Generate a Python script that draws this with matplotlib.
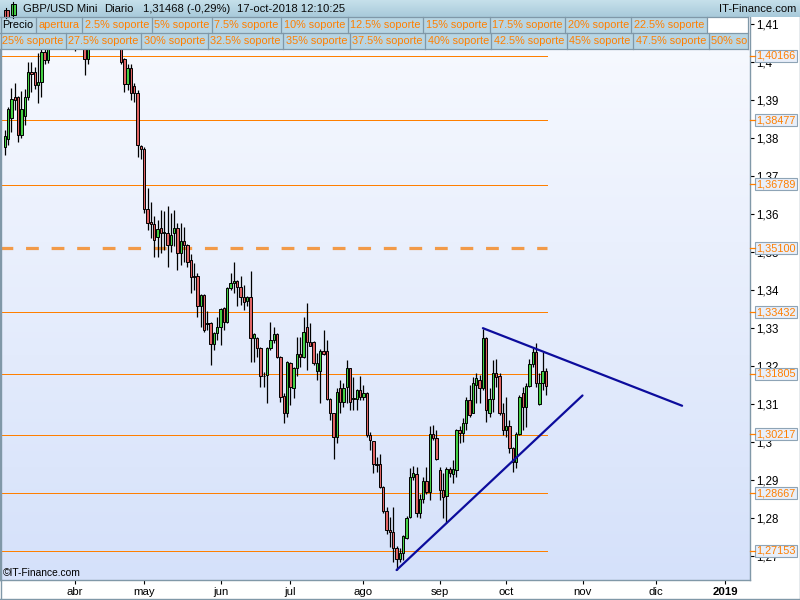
import numpy as np
import pandas as pd
import matplotlib
matplotlib.use("Agg")
import matplotlib.pyplot as plt
from matplotlib.patches import Rectangle
from matplotlib.colors import LinearSegmentedColormap
from matplotlib.transforms import Bbox, TransformedBbox

plt.rcParams["font.family"] = ["Liberation Sans", "DejaVu Sans"]

# GBP/USD diario, 2-mar-2018 .. 17-oct-2018
dates = pd.bdate_range("2018-03-02", "2018-10-17")

opens = [1.3777, 1.3797, 1.3852, 1.3907, 1.3907, 1.3807, 1.3858, 1.3907, 1.3973, 1.3973,
         1.3939, 1.3947, 1.4027, 1.4005, 1.4140, 1.4130, 1.4140, 1.4235, 1.4160, 1.4075,
         1.4060, 1.4047, 1.4090, 1.4060, 1.4080, 1.4007, 1.4090, 1.4120, 1.4165, 1.4185,
         1.4240, 1.4240, 1.4335, 1.4290, 1.4190, 1.4080, 1.4007, 1.3942, 1.3983, 1.3937,
         1.3918, 1.3780, 1.3771, 1.3613, 1.3578, 1.3573, 1.3539, 1.3563, 1.3550, 1.3550,
         1.3519, 1.3550, 1.3563, 1.3497, 1.3528, 1.3519, 1.3480, 1.3436, 1.3436, 1.3357,
         1.3387, 1.3313, 1.3313, 1.3258, 1.3286, 1.3302, 1.3352, 1.3315, 1.3405, 1.3420,
         1.3423, 1.3408, 1.3383, 1.3372, 1.3381, 1.3273, 1.3273, 1.3247, 1.3175, 1.3177,
         1.3247, 1.3269, 1.3285, 1.3225, 1.3122, 1.3078, 1.3208, 1.3142, 1.3195, 1.3231,
         1.3223, 1.3304, 1.3263, 1.3263, 1.3188, 1.3188, 1.3240, 1.3240, 1.3113, 1.3076,
         1.3014, 1.3142, 1.3107, 1.3144, 1.3194, 1.3113, 1.3113, 1.3137, 1.3118, 1.3129,
         1.3019, 1.3003, 1.2944, 1.2944, 1.2883, 1.2820, 1.2769, 1.2763, 1.2723, 1.2694,
         1.2710, 1.2747, 1.2804, 1.2908, 1.2916, 1.2813, 1.2852, 1.2899, 1.2870, 1.3023,
         1.3010, 1.2927, 1.2874, 1.2858, 1.2929, 1.2917, 1.2927, 1.3032, 1.3024, 1.3050,
         1.3111, 1.3078, 1.3151, 1.3165, 1.3142, 1.3273, 1.3078, 1.3115, 1.3181, 1.3174,
         1.3078, 1.3032, 1.3044, 1.2984, 1.2949, 1.3023, 1.3129, 1.3092, 1.3148, 1.3207,
         1.3237, 1.3100, 1.3156, 1.3187]
highs = [1.3821, 1.3882, 1.3931, 1.3944, 1.3911, 1.3924, 1.3929, 1.3999, 1.3999, 1.3988,
         1.4023, 1.4040, 1.4060, 1.4145, 1.4150, 1.4200, 1.4245, 1.4240, 1.4190, 1.4110,
         1.4075, 1.4100, 1.4100, 1.4095, 1.4095, 1.4100, 1.4140, 1.4180, 1.4215, 1.4245,
         1.4290, 1.4345, 1.4377, 1.4300, 1.4215, 1.4095, 1.4010, 1.3995, 1.3995, 1.3944,
         1.3925, 1.3782, 1.3776, 1.3668, 1.3633, 1.3595, 1.3585, 1.3611, 1.3607, 1.3622,
         1.3602, 1.3611, 1.3576, 1.3576, 1.3567, 1.3522, 1.3495, 1.3471, 1.3444, 1.3390,
         1.3390, 1.3344, 1.3316, 1.3290, 1.3330, 1.3352, 1.3356, 1.3409, 1.3444, 1.3475,
         1.3427, 1.3436, 1.3414, 1.3384, 1.3451, 1.3288, 1.3276, 1.3250, 1.3185, 1.3250,
         1.3317, 1.3304, 1.3287, 1.3228, 1.3129, 1.3213, 1.3212, 1.3198, 1.3278, 1.3278,
         1.3330, 1.3366, 1.3313, 1.3266, 1.3234, 1.3244, 1.3295, 1.3269, 1.3116, 1.3078,
         1.3142, 1.3164, 1.3155, 1.3216, 1.3196, 1.3172, 1.3140, 1.3174, 1.3150, 1.3131,
         1.3028, 1.3003, 1.2962, 1.2970, 1.2885, 1.2830, 1.2804, 1.2830, 1.2727, 1.2721,
         1.2756, 1.2806, 1.2931, 1.2937, 1.2936, 1.2865, 1.2909, 1.2934, 1.3043, 1.3045,
         1.3032, 1.2935, 1.2918, 1.2936, 1.2936, 1.2953, 1.3036, 1.3043, 1.3063, 1.3120,
         1.3150, 1.3172, 1.3181, 1.3177, 1.3299, 1.3276, 1.3142, 1.3216, 1.3218, 1.3181,
         1.3102, 1.3118, 1.3058, 1.2988, 1.3028, 1.3124, 1.3146, 1.3155, 1.3218, 1.3249,
         1.3260, 1.3181, 1.3238, 1.3194]
lows = [1.3755, 1.3782, 1.3817, 1.3874, 1.3789, 1.3800, 1.3834, 1.3900, 1.3922, 1.3930,
        1.3891, 1.3909, 1.3995, 1.3998, 1.4060, 1.4090, 1.4120, 1.4150, 1.4060, 1.4045,
        1.4037, 1.4030, 1.4040, 1.4045, 1.3966, 1.3995, 1.4060, 1.4100, 1.4140, 1.4150,
        1.4220, 1.4235, 1.4280, 1.4170, 1.4070, 1.3995, 1.3922, 1.3925, 1.3900, 1.3896,
        1.3751, 1.3745, 1.3602, 1.3558, 1.3537, 1.3488, 1.3487, 1.3497, 1.3506, 1.3462,
        1.3501, 1.3515, 1.3453, 1.3466, 1.3475, 1.3460, 1.3392, 1.3401, 1.3330, 1.3304,
        1.3290, 1.3295, 1.3203, 1.3243, 1.3269, 1.3256, 1.3295, 1.3313, 1.3401, 1.3392,
        1.3357, 1.3361, 1.3348, 1.3357, 1.3212, 1.3212, 1.3225, 1.3146, 1.3146, 1.3102,
        1.3243, 1.3260, 1.3221, 1.3107, 1.3050, 1.3067, 1.3098, 1.3116, 1.3173, 1.3199,
        1.3222, 1.3190, 1.3252, 1.3203, 1.3164, 1.3102, 1.3230, 1.3111, 1.3059, 1.2957,
        1.2997, 1.3076, 1.3093, 1.3102, 1.3085, 1.3085, 1.3085, 1.3111, 1.3111, 1.3014,
        1.2979, 1.2918, 1.2921, 1.2880, 1.2813, 1.2760, 1.2725, 1.2686, 1.2664, 1.2686,
        1.2690, 1.2745, 1.2800, 1.2900, 1.2804, 1.2800, 1.2839, 1.2865, 1.2848, 1.3006,
        1.2953, 1.2848, 1.2800, 1.2787, 1.2909, 1.2892, 1.2909, 1.2997, 1.3001, 1.3032,
        1.3067, 1.3076, 1.3102, 1.3102, 1.3137, 1.3054, 1.3067, 1.3080, 1.3146, 1.3071,
        1.3019, 1.3014, 1.2971, 1.2922, 1.2931, 1.3019, 1.3032, 1.3041, 1.3146, 1.3199,
        1.3146, 1.3098, 1.3137, 1.3124]
closes = [1.3805, 1.3877, 1.3902, 1.3900, 1.3807, 1.3876, 1.3907, 1.3973, 1.3968, 1.3939,
          1.3947, 1.4027, 1.4005, 1.4140, 1.4130, 1.4140, 1.4235, 1.4160, 1.4075, 1.4060,
          1.4047, 1.4090, 1.4060, 1.4080, 1.4007, 1.4090, 1.4120, 1.4165, 1.4185, 1.4240,
          1.4240, 1.4335, 1.4290, 1.4190, 1.4080, 1.4001, 1.3942, 1.3983, 1.3918, 1.3918,
          1.3782, 1.3771, 1.3613, 1.3576, 1.3574, 1.3532, 1.3560, 1.3550, 1.3554, 1.3519,
          1.3545, 1.3563, 1.3497, 1.3528, 1.3519, 1.3475, 1.3434, 1.3434, 1.3357, 1.3387,
          1.3295, 1.3310, 1.3258, 1.3286, 1.3304, 1.3350, 1.3317, 1.3405, 1.3420, 1.3423,
          1.3409, 1.3381, 1.3370, 1.3381, 1.3273, 1.3285, 1.3247, 1.3173, 1.3173, 1.3247,
          1.3269, 1.3285, 1.3225, 1.3120, 1.3078, 1.3210, 1.3145, 1.3195, 1.3231, 1.3225,
          1.3289, 1.3263, 1.3254, 1.3208, 1.3208, 1.3240, 1.3231, 1.3113, 1.3076, 1.3014,
          1.3131, 1.3107, 1.3142, 1.3194, 1.3107, 1.3117, 1.3137, 1.3118, 1.3129, 1.3019,
          1.3006, 1.2944, 1.2940, 1.2883, 1.2820, 1.2769, 1.2763, 1.2723, 1.2694, 1.2710,
          1.2753, 1.2802, 1.2908, 1.2918, 1.2813, 1.2852, 1.2899, 1.2870, 1.3023, 1.3012,
          1.2957, 1.2874, 1.2856, 1.2929, 1.2918, 1.2929, 1.3032, 1.3024, 1.3050, 1.3111,
          1.3071, 1.3155, 1.3168, 1.3142, 1.3273, 1.3085, 1.3115, 1.3181, 1.3172, 1.3078,
          1.3032, 1.3044, 1.2984, 1.2949, 1.3023, 1.3118, 1.3092, 1.3148, 1.3207, 1.3237,
          1.3155, 1.3156, 1.3187, 1.3147]

# niveles de soporte (derecha)
levels = [1.40166, 1.38477, 1.36789, 1.35100, 1.33432, 1.31805, 1.30217, 1.28667, 1.27153]
level_labels = ["1,40166", "1,38477", "1,36789", "1,35100", "1,33432",
                "1,31805", "1,30217", "1,28667", "1,27153"]
dashed_level = 1.35100

# triangulo
upper_dates = ["2018-09-20", "2018-12-13"]
upper_prices = [1.3300, 1.3096]
lower_dates = ["2018-08-15", "2018-11-01"]
lower_prices = [1.2664, 1.3123]

month_labels = ["abr", "may", "jun", "jul", "ago", "sep", "oct", "nov", "dic", "2019"]

row2_labels = ["Precio", "apertura", "2.5% soporte", "5% soporte", "7.5% soporte",
               "10% soporte", "12.5% soporte", "15% soporte", "17.5% soporte",
               "20% soporte", "22.5% soporte"]
row3_labels = ["25% soporte", "27.5% soporte", "30% soporte", "32.5% soporte",
               "35% soporte", "37.5% soporte", "40% soporte", "42.5% soporte",
               "45% soporte", "47.5% soporte", "50% soporte"]

title_parts = ["GBP/USD Mini", "Diario", "1,31468 (-0,29%)", "17-oct-2018 12:10:25"]

# ---------------------------------------------------------------
ORANGE = "#FF7F00"
BORDER = "#8098A8"
GREEN = "#44D044"
RED = "#E06464"

axis_days = pd.bdate_range("2018-03-01", "2019-01-31")


def pos(d):
    return axis_days.get_indexer(pd.to_datetime(d))


x = pos(dates)
o = np.array(opens)
h = np.array(highs)
l = np.array(lows)
c = np.array(closes)

# geometry in pixels: plot 0..750 x 17..580
bar_px = 3.32
x_lo, x_hi = -1.5 / bar_px, 748.5 / bar_px
y_top, y_bot = 1.41182, 1.26378


def py(p):
    # price -> pixel row counted from the top of the picture
    return 17 + (y_top - p) / (y_top - y_bot) * 563


def pixel_centre(p):
    # move a price onto the centre of its pixel row so 1px lines stay crisp
    yc = np.floor(py(p)) + 0.5
    return y_top - (yc - 17) / 563 * (y_top - y_bot)


fig = plt.figure(figsize=(8, 6), dpi=100, facecolor="white")
ax = fig.add_axes([0, 20 / 600, 750 / 800, 563 / 600])

grad = LinearSegmentedColormap.from_list("bg", ["#D5E1FA", "#F8FAFF"])
ax.imshow(np.linspace(0, 1, 256)[:, None], cmap=grad, origin="lower", aspect="auto",
          extent=(x_lo, x_hi, y_bot, y_top), zorder=0)

x_end = x[-1] + 0.3
for v in levels:
    if v == dashed_level:
        ax.plot([x_lo, x_end], [v, v], color="#F29A48", lw=2.3,
                dashes=(4.0, 4.0), zorder=1)
    else:
        yc = pixel_centre(v)
        ax.plot([x_lo, x_end], [yc, yc], color=ORANGE, lw=0.72, zorder=1,
                antialiased=False)

ax.vlines(x, l, h, color="black", lw=0.9, zorder=2)
body_lo = np.minimum(o, c)
body_h = np.maximum(np.abs(c - o), 0.00002)
ax.bar(x, body_h, bottom=body_lo, width=0.72,
       color=np.where(c >= o, GREEN, RED), edgecolor="black", linewidth=0.7, zorder=3)

ax.plot(pos(upper_dates), upper_prices, color="#0C0C9C", lw=1.6, zorder=4,
        solid_capstyle="round")
ax.plot(pos(lower_dates), lower_prices, color="#0C0C9C", lw=1.6, zorder=4,
        solid_capstyle="round")

ax.set_xlim(x_lo, x_hi)
ax.set_ylim(y_bot, y_top)

ax.yaxis.tick_right()
yt = np.round(np.arange(1.27, 1.4101, 0.01), 2)
ax.set_yticks(yt)
ax.set_yticklabels([("%.2f" % v).rstrip("0").replace(".", ",") for v in yt])
ax.tick_params(axis="y", length=3, width=0.8, pad=1.5, labelsize=8.3, colors="black")

month_starts = pd.date_range("2018-04-01", "2019-01-01", freq="MS")
ax.set_xticks(axis_days.searchsorted(month_starts))
ax.set_xticklabels(month_labels)
ax.tick_params(axis="x", length=3, width=0.8, pad=2, labelsize=8.2, colors="black")
ax.get_xticklabels()[-1].set_fontweight("bold")

for side in ["left", "bottom", "right"]:
    ax.spines[side].set_color(BORDER)
    ax.spines[side].set_linewidth(1.0)
ax.spines["top"].set_visible(False)

# ---------------- overlay in pixel coordinates ----------------
ov = fig.add_axes([0, 0, 1, 1], zorder=10)
ov.axis("off")

bar_cm = LinearSegmentedColormap.from_list("bar", ["#C6E0EB", "#A8CADA"])
ov.imshow(np.linspace(0, 1, 32)[:, None], cmap=bar_cm, origin="upper", aspect="auto",
          extent=(0, 800, 17, 0))
ov.set_xlim(0, 800)
ov.set_ylim(600, 0)

# candle icon
ov.plot([5.8, 5.8], [8, 18], color="black", lw=0.8)
ov.add_patch(Rectangle((3.5, 10), 5, 6.5, fc=RED, ec="black", lw=0.7))
ov.plot([13.3, 13.3], [1.5, 18], color="black", lw=0.8)
ov.add_patch(Rectangle((11, 3.5), 5, 11.5, fc=GREEN, ec="black", lw=0.7))

for s, xx in zip(title_parts, [23, 104, 143, 237]):
    ov.text(xx, 9, s, fontsize=8.1, color="#0A0A0A", va="center", ha="left")
ov.text(796, 9, "IT-Finance.com", fontsize=8.1, color="#0A0A0A", va="center", ha="right")

# header rows
ov.add_patch(Rectangle((0, 17), 748, 32, fc="#B8D5E3", ec="none"))
clip = TransformedBbox(Bbox([[0, 17], [748, 49]]), ov.transData)
r = fig.canvas.get_renderer()


def cell_row(labels, y0, colors, x_start):
    xx = x_start
    for s, col in zip(labels, colors):
        t = ov.text(xx + 2.5, y0 + 8.5, s, fontsize=7.8, color=col, va="center", ha="left")
        t.set_clip_box(clip)
        t.set_clip_on(True)
        xx += t.get_window_extent(r).width + 5
        if xx < 748:
            ov.plot([xx, xx], [y0, y0 + 16], color=BORDER, lw=0.9)
    return xx


end2 = cell_row(row2_labels, 17, ["black"] + [ORANGE] * 10, 0)
ov.add_patch(Rectangle((end2 + 1, 18), 748 - end2 - 1, 15, fc="white", ec="none"))
cell_row(row3_labels, 33, [ORANGE] * 11, -0.5)
for yy in [17, 33, 49]:
    ov.plot([0, 748], [yy, yy], color=BORDER, lw=0.9)
ov.plot([748, 748], [17, 49], color=BORDER, lw=0.9)

# price boxes on the right axis
for v, s in zip(levels, level_labels):
    yp = py(v)
    ov.plot([750, 755], [yp, yp], color=ORANGE, lw=0.9)
    ov.add_patch(Rectangle((755, yp - 6), 42, 12, fc="#E8EFFA", ec="#8EA4B6", lw=0.8))
    ov.text(776, yp + 0.3, s, fontsize=7.8, color=ORANGE, va="center", ha="center")

ov.text(3, 573, "\u00a9IT-Finance.com", fontsize=7.4, color="black", va="center", ha="left")

# outer frame
ov.plot([799.5, 799.5], [17, 599], color=BORDER, lw=1.0)
ov.plot([0, 800], [598.5, 598.5], color=BORDER, lw=1.0)
ov.plot([0.5, 0.5], [17, 599], color=BORDER, lw=1.0)

fig.savefig("out.png", dpi=100, facecolor="white")
